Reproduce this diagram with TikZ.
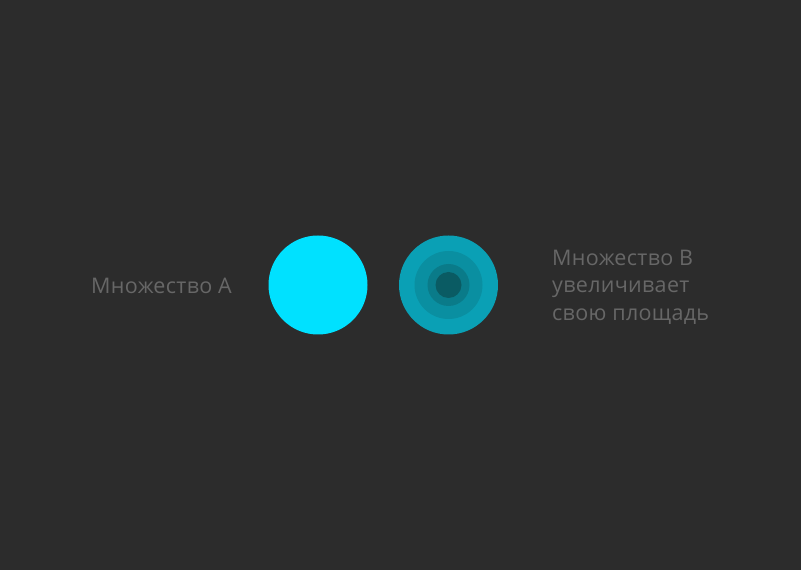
\documentclass[tikz,border=0pt]{standalone}
\usepackage{fontspec}
\setmainfont{Open Sans}[LetterSpace=1.5]
\definecolor{bg}{HTML}{2C2C2C}
\definecolor{txt}{HTML}{676767}
\definecolor{cyanA}{HTML}{00E1FF}
\definecolor{ringA}{HTML}{0AA0B5}
\definecolor{ringB}{HTML}{0A8FA1}
\definecolor{ringC}{HTML}{0A7B89}
\definecolor{ringD}{HTML}{0A5B63}
\begin{document}
\begin{tikzpicture}[x=1pt,y=1pt,
  lbl/.style={text=txt,font=\fontsize{21.5}{27.5}\selectfont,inner sep=0pt,align=left}]
\fill[bg] (0,0) rectangle (801,570);
\useasboundingbox (0,0) rectangle (801,570);
\fill[cyanA] (318,285) circle (49.5);
\node[circle,minimum size=99pt,inner sep=0pt,fill=ringA] (b1) at (448.5,285) {};
\node[circle,minimum size=68pt,inner sep=0pt,fill=ringB] (b2) at (448.5,285) {};
\node[circle,minimum size=42pt,inner sep=0pt,fill=ringC] (b3) at (448.5,285) {};
\node[circle,minimum size=26pt,inner sep=0pt,fill=ringD] (b4) at (448.5,285) {};
\node[lbl,anchor=west] (la) at (91,284) {Множество A};
\node[lbl,anchor=west] (lb) at (552,283) {Множество B\\увеличивает\\свою площадь};
\end{tikzpicture}
\end{document}
